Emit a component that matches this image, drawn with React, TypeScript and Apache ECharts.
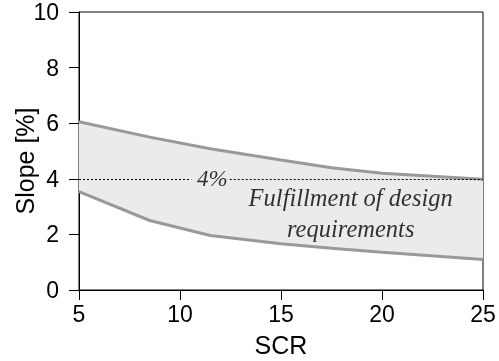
import React, { useEffect, useRef } from "react";
import * as echarts from "echarts";

const xValues = [5, 8.5, 11.5, 15, 17.5, 20, 25];
const upperSlope = [6.05, 5.5, 5.08, 4.68, 4.4, 4.2, 3.98];
const lowerSlope = [3.54, 2.5, 1.96, 1.66, 1.5, 1.36, 1.1];
const xTicks = [5, 10, 15, 20, 25];
const yTicks = [0, 2, 4, 6, 8, 10];
const requirementLevel = 4;
const dottedSegments = [
  [5, 10.56],
  [12.46, 25],
];
const labelFourPct = { x: 11.6, y: 4, text: "4%" };
const labelFulfil = { x: 18.45, y: 2.78, text: "Fulfillment of design\nrequirements" };

const sans = "Liberation Sans, Arial, sans-serif";
const serif = "Liberation Serif, Times New Roman, serif";

export default function App() {
  const ref = useRef<HTMLDivElement>(null);
  useEffect(() => {
    if (!ref.current) return;
    const chart = echarts.init(ref.current, null, { renderer: "svg" });
    const lowerData = xValues.map((x, i) => [x, lowerSlope[i]]);
    const upperData = xValues.map((x, i) => [x, upperSlope[i]]);
    chart.setOption({
      animation: false,
      grid: {
        left: 79,
        right: 16,
        top: 12,
        bottom: 71,
        outerBoundsMode: "none",
        containLabel: false,
        show: true,
        borderColor: "#000",
        borderWidth: 1,
        backgroundColor: "transparent",
      },
      xAxis: {
        type: "value",
        min: xTicks[0],
        max: xTicks[xTicks.length - 1],
        interval: 5,
        axisLine: { show: true, lineStyle: { color: "#000", width: 1 } },
        axisTick: { show: true, inside: false, length: 10, lineStyle: { color: "#000" } },
        axisLabel: { color: "#000", fontSize: 23, fontFamily: sans, margin: 12 },
        splitLine: { show: false },
        name: "SCR",
        nameLocation: "middle",
        nameGap: 42,
        nameMoveOverlap: false,
        nameTextStyle: { color: "#000", fontSize: 25, fontFamily: sans },
      },
      yAxis: {
        type: "value",
        min: yTicks[0],
        max: yTicks[yTicks.length - 1],
        interval: 2,
        axisLine: { show: true, lineStyle: { color: "#000", width: 1 } },
        axisTick: { show: true, inside: false, length: 10, lineStyle: { color: "#000" } },
        axisLabel: { color: "#000", fontSize: 23, fontFamily: sans, margin: 20 },
        splitLine: { show: false },
        name: "Slope [%]",
        nameLocation: "middle",
        nameGap: 42,
        nameMoveOverlap: false,
        nameTextStyle: { color: "#000", fontSize: 25, fontFamily: sans, padding: [0, 20, 0, 0] },
      },
      series: [
        {
          type: "custom",
          silent: true,
          z: 1,
          data: [[0]],
          renderItem: (_params: any, api: any) => {
            const pts: number[][] = [];
            for (let i = 0; i < xValues.length; i++) pts.push(api.coord([xValues[i], upperSlope[i]]));
            for (let i = xValues.length - 1; i >= 0; i--) pts.push(api.coord([xValues[i], lowerSlope[i]]));
            return {
              type: "polygon",
              shape: { points: pts },
              style: { fill: "#ebebeb", stroke: "none" },
            };
          },
        },
        {
          type: "line",
          data: upperData,
          symbol: "none",
          lineStyle: { color: "#999999", width: 3 },
          z: 3,
        },
        {
          type: "line",
          data: lowerData,
          symbol: "none",
          lineStyle: { color: "#999999", width: 3 },
          z: 3,
          markLine: {
            silent: true,
            symbol: "none",
            label: { show: false },
            lineStyle: { color: "#000", type: [2, 2], width: 1.2 },
            data: dottedSegments.map(([a, b]) => [
              { coord: [a, requirementLevel] },
              { coord: [b, requirementLevel] },
            ]),
          },
        },
        {
          type: "scatter",
          symbolSize: 1,
          itemStyle: { color: "rgba(0,0,0,0)" },
          silent: true,
          z: 5,
          data: [
            {
              value: [labelFourPct.x, labelFourPct.y],
              name: labelFourPct.text,
              label: { fontSize: 23 },
            },
            {
              value: [labelFulfil.x, labelFulfil.y],
              name: labelFulfil.text,
              label: { fontSize: 24.5, lineHeight: 31 },
            },
          ],
          label: {
            show: true,
            position: "inside",
            formatter: (p: any) => p.name,
            color: "#000",
            fontFamily: serif,
            fontStyle: "italic",
            fontSize: 22,
            lineHeight: 30,
            align: "center",
            verticalAlign: "middle",
          },
        },
      ],
    });
    return () => chart.dispose();
  }, []);
  return (
    <div
      ref={ref}
      style={{ position: "fixed", left: 0, top: 0, width: 499, height: 361 }}
    />
  );
}
